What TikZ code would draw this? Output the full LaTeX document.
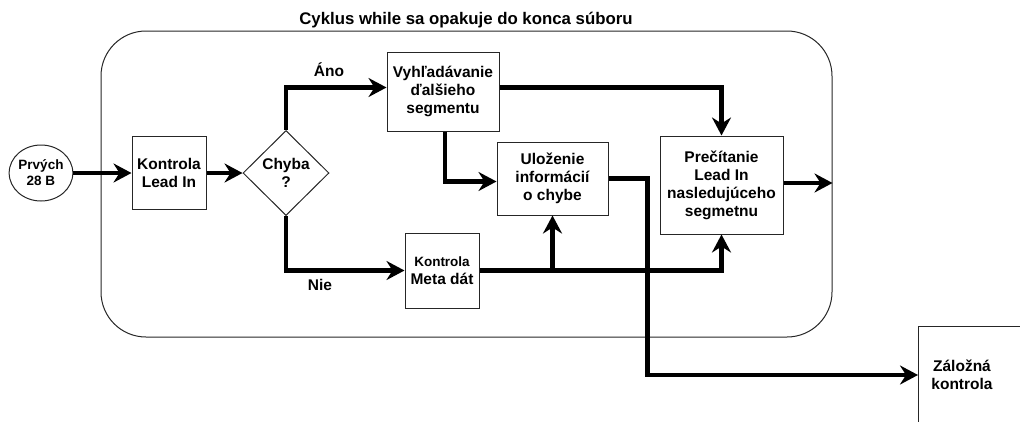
\documentclass[tikz,border=0pt]{standalone}
\usepackage{fontspec}
\setmainfont{Liberation Sans}
\usetikzlibrary{arrows.meta,shapes.geometric,calc}
\begin{document}
\begin{tikzpicture}[x=1pt,y=-1pt,
  font=\bfseries\fontsize{15.5}{18}\selectfont,
  box/.style={draw=black!85, line width=1pt, align=center, inner sep=0pt},
  flow/.style={line width=4.5pt, -{Stealth[length=18pt,width=19pt,inset=6pt]}},
  lbl/.style={inner sep=0pt, align=center}]
\clip (0,0) rectangle (1020,421);
\node[box, rounded corners=45pt, minimum width=731pt, minimum height=306pt] (loop) at (466.5,184) {};
\node[lbl, font=\bfseries\fontsize{16.8}{19}\selectfont] (title) at (466,20) {Cyklus while sa opakuje do konca súboru};
\node[box, ellipse, minimum width=62pt, minimum height=56pt, font=\bfseries\fontsize{13.5}{16}\selectfont] (start) at (41,173) {Prvých\\28 B};
\node[box, minimum width=74pt, minimum height=73pt] (leadin) at (169,173) {Kontrola\\Lead In};
\node[box, diamond, minimum width=86pt, minimum height=85pt] (chyba) at (286,173) {Chyba\\?};
\node[box, minimum width=112pt, minimum height=79pt] (search) at (443,91.5) {Vyhľadávanie\\ďalšieho\\segmentu};
\node[box, minimum width=111pt, minimum height=73pt] (store) at (552.5,178.5) {Uloženie\\informácií\\o chybe};
\node[box, minimum width=123pt, minimum height=98pt] (read) at (721.5,185) {Prečítanie\\Lead In\\nasledujúceho\\segmetnu};
\node[box, minimum width=74pt, minimum height=75pt] (meta) at (442,270.5) {{\fontsize{13.5}{16}\selectfont Kontrola}\\Meta dát};
\node[box, minimum width=150pt, minimum height=98pt, anchor=west] (backup) at (918,375) {};
\node[lbl] (backuptext) at ($(backup.west)+(44,0)$) {Záložná\\kontrola};
\node[lbl] (ano) at (329,70) {Áno};
\node[lbl] (nie) at (320,285) {Nie};
\draw[flow] (start) -- (leadin);
\draw[flow] (leadin) -- (chyba);
\draw[flow] (chyba.north) |- ($(search.west)+(0,-4)$);
\draw[flow] (chyba.south) |- (meta.west);
\draw[flow] ($(search.east)+(0,-4)$) -| (read.north);
\draw[flow] ($(search.south)+(2,0)$) |- ($(store.west)+(0,3)$);
\draw[flow] (meta.east) -| (read.south);
\draw[flow] (meta.east -| store.south) -- (store.south);
\draw[flow] (store.east) -- ++(39,0) |- (backup.west);
\draw[flow] ($(read.east)+(0,-2)$) -- ($(loop.east |- read.east)+(0,-2)$);
\end{tikzpicture}
\end{document}
